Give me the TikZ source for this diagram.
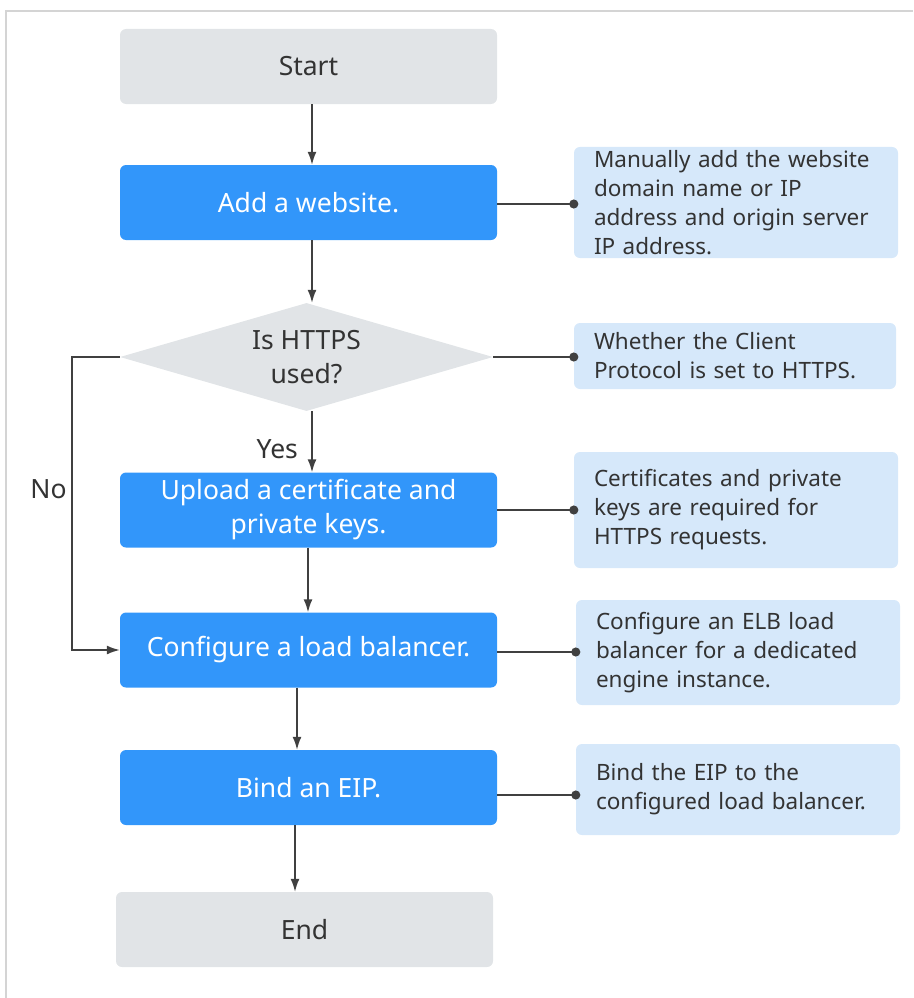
\documentclass[tikz,border=0pt]{standalone}
\usepackage{fontspec}
\setmainfont{Noto Sans}
\usepackage{tikz}
\usepackage{xcolor}
\usetikzlibrary{shapes.geometric,arrows.meta}

\definecolor{termgrey}{RGB}{225,228,231}
\definecolor{stepblue}{RGB}{50,150,250}
\definecolor{noteblue}{RGB}{214,232,250}
\definecolor{linegrey}{RGB}{64,64,64}
\definecolor{textgrey}{RGB}{51,51,51}
\definecolor{framegrey}{RGB}{212,212,212}

\tikzset{
  term/.style={fill=termgrey, rounded corners=6pt, minimum width=377pt, minimum height=75pt,
    text=textgrey, font=\fontsize{26.5}{34}\selectfont},
  stepbox/.style={fill=stepblue, rounded corners=6pt, minimum width=377pt, minimum height=75pt,
    text=white, align=center, font=\fontsize{26.5}{34}\selectfont},
  decide/.style={diamond, fill=termgrey, shape aspect=3.45, inner sep=0pt, minimum width=373pt,
    minimum height=108pt, align=center, text=textgrey, font=\fontsize{26.5}{34}\selectfont},
  note/.style={fill=noteblue, rounded corners=6pt, inner xsep=20pt, text width=284pt,
    align=left, text=textgrey, font=\fontsize{22.5}{29}\selectfont},
  arr/.style={draw=linegrey, line width=1.6pt, -{Latex[length=13pt,width=9pt]}},
  link/.style={draw=linegrey, line width=1.6pt, -{Circle[length=9pt]}, shorten >=-4.5pt},
  lbl/.style={text=textgrey, font=\fontsize{26.5}{34}\selectfont},
}

\begin{document}
\begin{tikzpicture}[x=1pt, y=-1pt]
    \useasboundingbox (0,0) rectangle (913,998);
    \draw[framegrey, line width=2pt] (6,998) -- (6,11.5) -- (913,11.5); % frame, open at right and bottom

    % main column
    \node[term] (start) at (308.5,66.5) {Start};
    \node[stepbox] (add) at (308.5,202.5) {Add a website.};
    \node[decide] (https) at (306.5,357) {Is HTTPS\\used?};
    \node[stepbox] (upload) at (308.5,510) {Upload a certificate and\\private keys.};
    \node[stepbox] (elb) at (308.5,650) {Configure a load balancer.};
    \node[stepbox] (eip) at (308.5,787.5) {Bind an EIP.};
    \node[term] (end) at (304.5,929.5) {End};

    % notes on the right
    \node[note, minimum height=111pt] (addnote) at (736,202.5)
      {Manually add the website\\domain name or IP\\address and origin server\\IP address.};
    \node[note, minimum height=66pt, text width=282pt] (httpsnote) at (735,356)
      {Whether the Client\\Protocol is set to HTTPS.};
    \node[note, minimum height=116pt] (uploadnote) at (736,510)
      {Certificates and private\\keys are required for\\HTTPS requests.};
    \node[note, minimum height=105pt] (elbnote) at (738,652.5)
      {Configure an ELB load\\balancer for a dedicated\\engine instance.};
    \node[note, minimum height=91pt] (eipnote) at (738,789.5)
      {Bind the EIP to the\\configured load balancer.};

    % flow
    \draw[arr] ([xshift=3.5pt]start.south) -- ([xshift=3.5pt]add.north);
    \draw[arr] ([xshift=3.5pt]add.south) -- ([xshift=5.5pt]https.north);
    \draw[arr] ([xshift=5.5pt]https.south) -- node[lbl, pos=0.62, left=10pt] {Yes} ([xshift=3.5pt]upload.north);
    \draw[arr] ([xshift=-0.5pt]upload.south) -- ([xshift=-0.5pt]elb.north);
    \draw[arr] ([xshift=-11.5pt]elb.south) -- ([xshift=-11.5pt]eip.north);
    \draw[arr] ([xshift=-13.5pt]eip.south) -- ([xshift=-9.5pt]end.north);
    \draw[arr] (https.west) -- ++(-48,0) |- node[lbl, pos=0.225, left=1pt] {No} (elb.west);

    % links to notes
    \draw[link] ([yshift=-1.5pt]add.east) -- ([yshift=-1.5pt]add.east -| addnote.west);
    \draw[link] (https.east) -- (https.east -| httpsnote.west);
    \draw[link] (upload.east) -- (upload.east -| uploadnote.west);
    \draw[link] ([yshift=-2pt]elb.east) -- ([yshift=-2pt]elb.east -| elbnote.west);
    \draw[link] ([yshift=-7.5pt]eip.east) -- ([yshift=-7.5pt]eip.east -| eipnote.west);
  \end{tikzpicture}
\end{document}
